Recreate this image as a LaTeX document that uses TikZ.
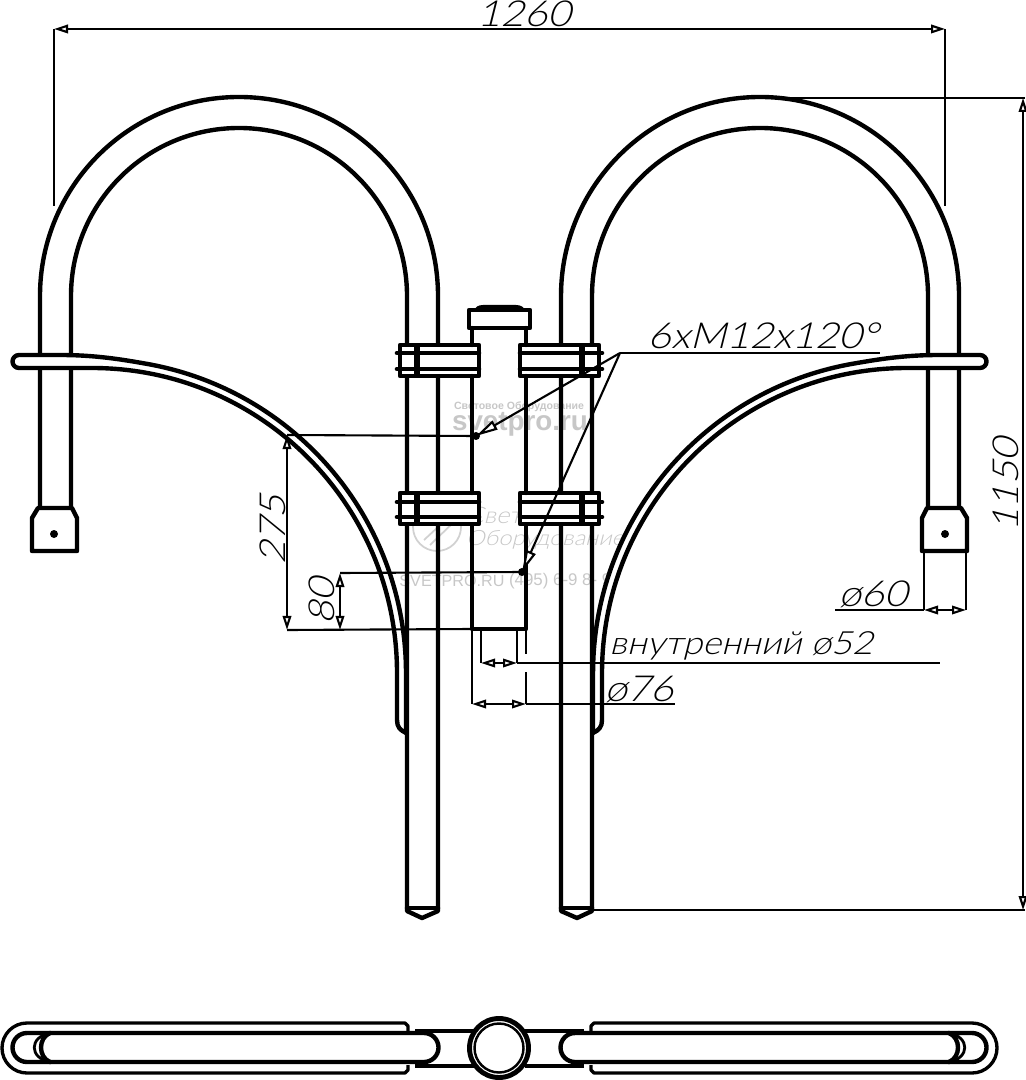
\documentclass[tikz,border=0pt]{standalone}
\usepackage{fontspec}
\usepackage{tikz}
\usetikzlibrary{arrows.meta}
\newfontfamily\dimfont[FakeSlant=0.25,FakeStretch=1.12]{Lato Light}
\newfontfamily\markfont{Liberation Sans}
\def\drawtube{\draw[color=black, line width=1.25pt, line cap=round, line join=round]}
\def\drawthin{\draw[color=black, line width=0.6pt]}
\def\drawdim{\draw[color=black, line width=0.6pt, {Triangle[open,fill=white,length=1.4mm,width=0.85mm]}-{Triangle[open,fill=white,length=1.4mm,width=0.85mm]}]}
\def\drawleader{\draw[color=black, line width=0.6pt, -{Triangle[open,fill=white,length=2.2mm,width=1mm]}]}
\def\dimnode{\node[font=\dimfont\fontsize{10.2}{12}\selectfont,inner sep=0pt]}
\def\marknode{\node[text=black!22,inner sep=0pt]}

\begin{document}
\begin{tikzpicture}[x=0.01cm,y=-0.01cm]
\useasboundingbox (0,0) rectangle (1025,1080);

% ---------- watermark under everything
\marknode (mark_small) at (519,407) {\markfont\bfseries\fontsize{3}{4}\selectfont Световое Оборудование};
\marknode (mark_big) at (520,424) {\markfont\bfseries\fontsize{7.9}{9}\selectfont svetpro.ru};
\marknode (mark_word1) at (521,515) {\dimfont\fontsize{6.5}{7}\selectfont Световое};
\marknode (mark_word2) at (545,540) {\dimfont\fontsize{6}{7}\selectfont Оборудование};
\marknode (mark_site) at (452,581) {\markfont\fontsize{4.6}{5}\selectfont SVETPRO.RU};
\marknode (mark_phone) at (563,581) {\markfont\fontsize{4.8}{6}\selectfont (495) 6-9 8- 9-};
\draw[color=black!18, line width=0.5pt] (437,527) circle[radius=24];
\draw[color=black!18, line width=0.5pt] (424,540) -- (452,514);
\draw[color=black!18, line width=0.5pt] (430,545) -- (456,520);

% ---------- the two arms, the right one is the left one mirrored at x=499.5
\foreach \sx/\ox in {1/0,-1/999} {
\begin{scope}[shift={(\ox,0)},xscale=\sx]
% arch and post
\coordinate (leg_out) at (40,508);
\coordinate (leg_in) at (71,508);
\coordinate (tip_l) at (407,908);
\coordinate (tip_r) at (438,908);
\coordinate (tip) at (422,918);
\drawtube (leg_out) -- (40,296) arc[start angle=180,end angle=360,radius=199] -- (tip_r);
\drawtube (leg_in) -- (71,296) arc[start angle=180,end angle=360,radius=168] -- (tip_l);
\drawtube (tip_l) -- (tip_r);
\drawtube (tip_l) -- (407,911) -- (tip) -- (438,911) -- (tip_r);
% end cap with hole
\drawtube[fill=white] (32,551) -- (32,518) -- (38,508) -- (72,508) -- (77,518) -- (77,551) -- cycle;
\fill (54,534) circle[radius=4];
% curved bar
\drawtube[fill=white] (19,355) -- (60,355) .. controls (95,355) and (121.5,359.4) .. (146.5,363.8)
  arc[start angle=280,end angle=360,radius=314] -- (406,733) .. controls (400,730) and (397,727) .. (397,720)
  -- (397,673) arc[start angle=360,end angle=270,radius=305] -- (19,368)
  arc[start angle=90,end angle=270,radius=6.5] -- cycle;
\drawtube (407,660) -- (407,740);
% clamps
\foreach \cy/\ua/\ub in {345/8/24,493/9/24} {
\drawtube[fill=white] (400,\cy) rectangle (479,\cy+31);
\draw[color=black, line width=1.3pt, line cap=round] (397,\cy+\ua) -- (479,\cy+\ua);
\draw[color=black, line width=1.3pt, line cap=round] (397,\cy+\ub) -- (479,\cy+\ub);
\draw[color=black, line width=1.6pt] (417,\cy) -- (417,\cy+31);
}
% plan view
\coordinate (arm_top) at (474,1031);
\coordinate (arm_bot) at (474,1066);
\draw[color=black, line width=0.95pt, line join=round] (408,1031) -- (408,1026) -- (405,1023) -- (27,1023)
  arc[start angle=270,end angle=90,radius=25] -- (405,1073) -- (408,1070) -- (408,1065);
\draw[color=black, line width=1.4pt] (415,1031) -- (arm_top);
\draw[color=black, line width=1.4pt] (415,1066) -- (arm_bot);
\drawtube[fill=white] (50,1033) -- (424,1033) arc[start angle=270,end angle=450,radius=14.5] -- (50,1062);
\drawtube (50,1033) -- (27,1033) arc[start angle=270,end angle=90,radius=14.5] -- (50,1062);
\draw[color=black, line width=0.8pt] (50,1033) .. controls (29,1037) and (29,1058) .. (50,1062);
\drawtube (50,1033) .. controls (38,1038) and (38,1057) .. (50,1062);
\end{scope}
}

% ---------- central pipe
\coordinate (pipe_tl) at (472,328);
\coordinate (pipe_tr) at (526,328);
\coordinate (pipe_bl) at (472,629);
\coordinate (pipe_br) at (526,629);
\drawtube (pipe_tl) -- (472,345);
\drawtube (pipe_tr) -- (526,345);
\drawtube (472,376) -- (472,493);
\drawtube (526,376) -- (526,493);
\drawtube (472,525) -- (pipe_bl) -- (pipe_br) -- (526,525);
\drawtube (469,310) rectangle (530,328);
\fill (473,312) .. controls (475,307) and (478,305) .. (483,305) -- (516,305) .. controls (521,305) and (524,307) .. (526,312) -- cycle;

% ---------- plan view pipe
\draw[color=black, line width=1.4pt, fill=white] (499,1048) circle[radius=29.5];
\draw[color=black, line width=0.7pt, fill=white] (499,1048) circle[radius=24.5];

% ---------- dimensions
\coordinate (w_l) at (54,29);
\coordinate (w_r) at (945,29);
\drawthin (w_l) -- (54,206);
\drawthin (w_r) -- (945,206);
\drawdim (w_l) -- (w_r);
\dimnode (label_1260) at (524,14) {1260};

\coordinate (h_t) at (1023,98);
\coordinate (h_b) at (1023,910);
\drawthin (770,98) -- (1025,98);
\drawthin (592,910) -- (1025,910);
\drawdim (h_t) -- (h_b);
\dimnode[rotate=90] (label_1150) at (1006,485) {1150};

\coordinate (bolt_a) at (476,436);
\coordinate (bolt_b) at (522,572);
\coordinate (d275_t) at (287,435);
\coordinate (d275_b) at (287,630);
\coordinate (d80_t) at (340,573);
\coordinate (d80_b) at (340,630);
\fill (bolt_a) circle[radius=4];
\fill (bolt_b) circle[radius=4];
\drawthin (d275_t) -- (bolt_a);
\drawthin (d80_t) -- (bolt_b);
\drawthin (d275_b) -- (pipe_bl);
\drawdim (d275_t) -- (d275_b);
\drawdim (d80_t) -- (d80_b);
\dimnode[rotate=90] (label_275) at (273,530) {275};
\dimnode[rotate=90] (label_80) at (322,601) {80};

\coordinate (lead_o) at (620,353);
\drawthin (lead_o) -- (880,353);
\drawleader (lead_o) -- (bolt_a);
\drawleader (lead_o) -- (bolt_b);
\dimnode (label_bolts) at (763,336) {6xМ12x120°};

\coordinate (d60_l) at (924,610);
\coordinate (d60_r) at (966,610);
\drawthin (d60_l) -- (924,550);
\drawthin (d60_r) -- (966,550);
\drawthin (835,610) -- (d60_l);
\drawdim (d60_l) -- (d60_r);
\dimnode (label_60) at (873,594) {ø60};

\coordinate (d52_l) at (481,663);
\coordinate (d52_r) at (517,663);
\drawthin (481,630) -- (d52_l);
\drawthin (517,630) -- (d52_r);
\drawthin (d52_r) -- (940,663);
\drawdim (d52_l) -- (d52_r);
\dimnode[font=\dimfont\fontsize{9.1}{11}\selectfont] (label_52) at (741,646) {внутренний ø52};

\coordinate (d76_l) at (472,704);
\coordinate (d76_r) at (526,704);
\drawthin (pipe_bl) -- (d76_l);
\drawthin (pipe_br) -- (526,654);
\drawthin (526,672) -- (d76_r);
\drawthin (d76_r) -- (675,704);
\drawdim (d76_l) -- (d76_r);
\dimnode (label_76) at (639,689) {ø76};
\end{tikzpicture}
\end{document}
